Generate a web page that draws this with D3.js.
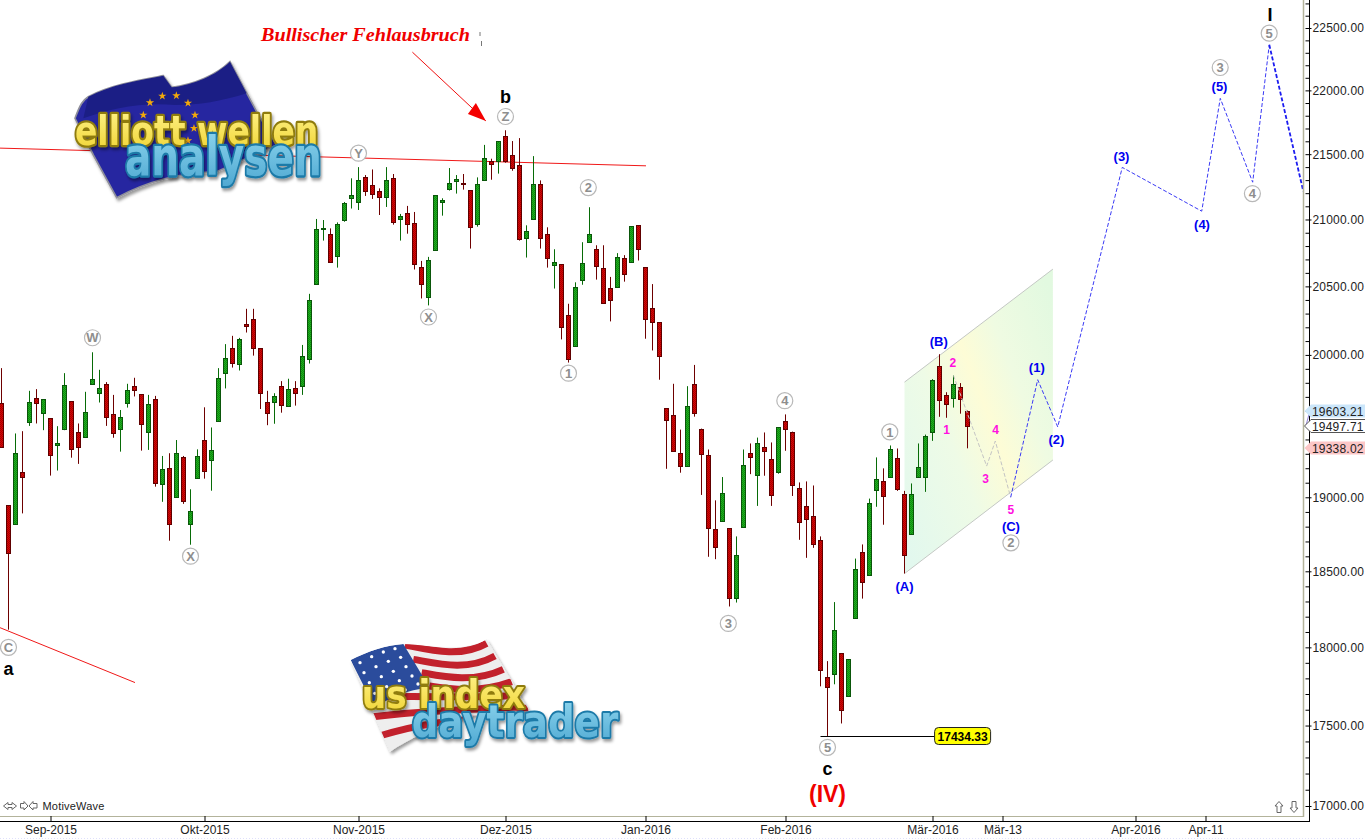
<!DOCTYPE html>
<html><head><meta charset="utf-8">
<script src="https://cdn.jsdelivr.net/npm/d3@7"></script>
<style>
html,body{margin:0;padding:0;background:#fff;overflow:hidden}
svg{display:block;font-family:"Liberation Sans",Arial,sans-serif}
</style></head><body>
<svg id="chart" width="1365" height="839"></svg>
<script>
// ---- candle values, one entry per trading day ----
const opens=[19655,18945,18815,19172,19524,19691,19588,19548,19364,19475,
19669,19449,19419,19788,19724,19793,19576,19475,19660,19776,
19719,19454,19683,19093,19200,19004,19278,18820,19135,19394,
19260,19531,19869,20049,19934,20224,20260,20049,19662,19667,
19776,19638,19764,19774,19974,20515,20926,20888,20722,20996,
21166,21136,21321,21260,21215,21174,21314,21006,21047,20971,
20642,20425,20774,21131,21235,21295,21275,21222,20968,21298,
21450,21444,21639,21497,21420,20864,21006,21268,20888,20662,
20664,20289,20061,20550,20834,20776,20634,20486,20498,20709,
20684,20956,20642,20340,20238,19619,19569,19303,19217,19790,
19476,19289,18781,18835,18788,18326,18799,19303,19155,19344,
19261,19176,19526,19455,19067,18943,18869,18707,17809,17830,
17963,17685,18191,18626,18476,19053,19109,19141,19268,19025,
18752,19141,19141,19454,19919,19716,19695,19770,19603.21];
const highs=[19905,18945,19442,19458,19743,19755,19683,19548,19493,19869,
19669,19512,19736,20019,19893,19805,19714,19607,19793,19836,
19719,19714,19707,19285,19304,19396,19285,19055,19331,19626,
19484,19905,20078,20138,20123,20335,20335,20049,19743,19726,
19812,19829,19812,20072,20445,21004,20996,20933,20978,21133,
21314,21400,21339,21382,21237,21400,21347,21042,21103,21057,
20689,20719,21184,21161,21393,21339,21347,21222,21321,21572,
21465,21600,21686,21602,21625,20956,21485,21298,20941,20776,
20664,20372,20530,20829,21093,20806,20806,20570,20747,20732,
20948,20956,20642,20517,20238,19619,19793,19469,19776,19928,
19476,19330,18979,19139,18788,18734,19330,19372,19413,19449,
19379,19484,19576,19455,19102,19109,19081,18734,17911,18296,
17963,17924,18585,18680,18991,19275,19199,19358,19337,19044,
19095,19372,19434,19826,20005,19733,19852,19798,19603.21];
const lows=[19345,18115,18815,18890,19495,19512,19465,19149,19184,19465,
19273,19230,19419,19788,19660,19495,19412,19315,19624,19703,
19322,19327,19073,18969,18705,19004,18955,18678,19135,19128,
19045,19531,19760,19909,19888,20162,19995,19614,19500,19510,
19588,19631,19638,19714,19938,20515,20841,20684,20639,20983,
21083,21072,21179,21156,21034,21095,20961,20841,20893,20625,
20411,20360,20774,21029,21220,21197,21227,20781,20946,21298,
21303,21350,21434,21372,20841,20714,21006,20781,20639,20484,
20112,19945,20061,20512,20834,20550,20381,20243,20498,20535,
20684,20692,20117,20032,19822,19196,19321,19169,19217,19560,
19016,18597,18581,18835,18267,18293,18799,19159,18941,19148,
18941,19162,19321,19009,18711,18590,18657,17749,17434.33,17762,
17513,17685,18191,18319,18470,18935,18813,19141,19044,18485,
18745,19134,19037,19390,19559,19552,19624,19581,19338.02];
const closes=[19345,18620,19305,19142,19662,19660,19683,19294,19373,19783,
19331,19350,19591,19826,19762,19560,19447,19555,19748,19752,
19510,19648,19100,19193,18820,19304,18975,18903,19283,19184,
19324,19833,19976,19945,20114,20206,20053,19731,19588,19705,
19645,19755,19731,19993,20399,20926,20933,20684,20963,21123,
21184,21298,21220,21197,21174,21298,20983,21024,20968,20669,
20520,20694,21184,21146,21275,21306,21268,20946,21268,21474,
21426,21600,21444,21395,20856,20912,21268,20864,20714,20679,
20199,19967,20493,20672,20888,20654,20381,20403,20717,20595,
20948,20781,20258,20236,19995,19538,19321,19217,19633,19588,
19300,18792,18664,19032,18326,18612,19219,19280,19372,19321,
19016,19484,19474,19085,18833,18853,18685,17851,17743,18112,
17596,17924,18518,18432,18964,19129,19009,19330,19058,18610,
19025,19206,19427,19819,19677,19648,19791,19688,19497.71];

// ---- axes ----
const dateTickBars=[7,29,51,72,92,112,133,143,162,172];
const dateTickLabels=["Sep-2015","Okt-2015","Nov-2015","Dez-2015","Jan-2016","Feb-2016","Mär-2016","Mär-13","Apr-2016","Apr-11"];
const priceMajor=[17000,17500,18000,18500,19000,19500,20000,20500,21000,21500,22000,22500];
const priceMinor=d3.range(17000,22800,100);

// ---- forecast paths: [bar, price] ----
const pinkWave=[[136,19852],[140.74,19215],[141.97,19389],[144.17,19000]];
const blueWave=[[144.17,19000],[148.03,19822],[150.89,19488],[160.11,21398],[171.46,21063],[174.11,21937],[178.74,21284],[181.11,22364]];
const blueWaveLast=[[181.11,22364],[185.97,21215]];
const trendUpper=[[-0.21,21547],[92.07,21410]];
const trendLower=[[-0.21,18128],[19.07,17773]];
const channel=[[129,19805],[150.2,20628],[150.2,19257],[129,18485]];

// ---- wave labels: [text, bar, price] ----
const circled=[["C",1,18000],["W",13,20124],["X",27,18601],["Y",51,21508],["X",61,20275],["Z",72,21794],
["1",81,19869],["2",83.83,21243],["3",103.83,18156],["4",111.9,19673],["5",118,17363],["1",126.9,19453],
["2",144.2,18691],["3",174.1,22182],["4",178.7,21197],["5",181.1,22458]];
const blueLabels=[["(A)",129,18402],["(B)",133.9,20097],["(C)",144.2,18799],["(1)",147.9,19909],["(2)",150.7,19402],
["(3)",160,21487],["(4)",171.5,20962],["(5)",174,22035]];
const pinkLabels=[["1",135,19470],["2",135.9,19941],["3",140.6,19130],["4",142,19470],["5",144.2,18912]];
const blackLabels=[["a",1,17863],["b",72,21948],["c",118,17230],["I",181.2,22612]];
const redDegree=[["(IV)",118,17075]];
const lastLabels=[[19603.21,"blue"],[19497.71,"white"],[19338.02,"red"]];
const lowValue=17434.33;

const svg=d3.select("#chart");
const x=d3.scaleLinear().domain([0,1]).range([1.5,8.5]);
const y=d3.scaleLog().domain([17000,22500]).range([806,28]);
const line=d3.line().x(d=>x(d[0])).y(d=>y(d[1]));

// ---- defs ----
const defs=svg.append("defs");
function dither(id,a,b){
  const p=defs.append("pattern").attr("id",id).attr("width",2).attr("height",2).attr("patternUnits","userSpaceOnUse");
  p.append("rect").attr("width",2).attr("height",2).attr("fill",a);
  p.append("rect").attr("width",1).attr("height",1).attr("fill",b);
  p.append("rect").attr("x",1).attr("y",1).attr("width",1).attr("height",1).attr("fill",b);
}
dither("upFill","#1fae1f","#0e8a0e");
dither("downFill","#d40606","#a80000");
const cg=defs.append("linearGradient").attr("id","chanGrad").attr("x1",0).attr("y1",0.9).attr("x2",1).attr("y2",0.1);
[[0,"#e2f8ee"],[0.35,"#eefbe6"],[0.55,"#fdfcd6"],[0.72,"#effbe2"],[1,"#e2f9e0"]].forEach(s=>cg.append("stop").attr("offset",s[0]).attr("stop-color",s[1]));
const sh=defs.append("filter").attr("id","logoShadow").attr("x","-10%").attr("y","-10%").attr("width","125%").attr("height","130%");
sh.append("feDropShadow").attr("dx",5).attr("dy",8).attr("stdDeviation",5).attr("flood-color","#000").attr("flood-opacity",0.4);
const yg=defs.append("linearGradient").attr("id","yellowGrad").attr("x1",0).attr("y1",0).attr("x2",0).attr("y2",1);
yg.append("stop").attr("offset",0).attr("stop-color","#fff38a");yg.append("stop").attr("offset",1).attr("stop-color","#efd22e");
const bg=defs.append("linearGradient").attr("id","blueGrad").attr("x1",0).attr("y1",0).attr("x2",0).attr("y2",1);
bg.append("stop").attr("offset",0).attr("stop-color","#8fd6ee");bg.append("stop").attr("offset",1).attr("stop-color","#4ea8d2");

// ---- channel ----
svg.append("polygon").attr("points",channel.map(d=>[x(d[0]),y(d[1])].join(",")).join(" ")).attr("fill","url(#chanGrad)");
svg.append("path").attr("d",line([channel[0],channel[1]])).attr("stroke","#c4c8c4").attr("fill","none");
svg.append("path").attr("d",line([channel[3],channel[2]])).attr("stroke","#c4c8c4").attr("fill","none");

// ---- trend lines ----
[trendUpper,trendLower].forEach(t=>svg.append("path").attr("d",line(t)).attr("stroke","#f01818").attr("fill","none"));

// ---- low marker line ----
svg.append("line").attr("x1",x(117)).attr("x2",x(133.3)).attr("y1",Math.round(y(lowValue))+.5).attr("y2",Math.round(y(lowValue))+.5).attr("stroke","#000");

// ---- candles ----
const bars=d3.range(opens.length);
const g=svg.append("g").attr("class","candles");
g.selectAll("line").data(bars).join("line")
  .attr("x1",i=>x(i)).attr("x2",i=>x(i)).attr("y1",i=>y(highs[i])).attr("y2",i=>y(lows[i]))
  .attr("stroke",i=>closes[i]>=opens[i]?"#076b07":"#6e0000");
g.selectAll("rect").data(bars).join("rect")
  .attr("x",i=>x(i)-2).attr("width",4)
  .attr("y",i=>Math.round(y(Math.max(opens[i],closes[i])))+.5)
  .attr("height",i=>Math.max(1,Math.round(y(Math.min(opens[i],closes[i])))-Math.round(y(Math.max(opens[i],closes[i])))))
  .attr("fill",i=>closes[i]>=opens[i]?"url(#upFill)":"url(#downFill)")
  .attr("stroke",i=>closes[i]>=opens[i]?"#0a560a":"#600000");

// ---- forecast waves ----
svg.append("path").attr("d",line(pinkWave)).attr("fill","none").attr("stroke","#c4c4c4").attr("stroke-dasharray","4,2");
svg.append("path").attr("d",line(blueWave)).attr("fill","none").attr("stroke","#3a3af5").attr("stroke-dasharray","4,2");
svg.append("path").attr("d",line(blueWaveLast)).attr("fill","none").attr("stroke","#1c1cf0").attr("stroke-width",1.8).attr("stroke-dasharray","4,2");

// ---- logos ----
// Sets the logo word to a measured horizontal scale so that its real box matches its drawn width.
function logoWord(L,text,left,base,size,width,fill,stroke,sw){
  const t=L.append("text").text(text).attr("font-family","DejaVu Sans").attr("font-weight","bold").attr("font-size",size)
    .attr("fill",fill).attr("stroke",stroke).attr("stroke-width",sw).attr("paint-order","stroke").attr("stroke-linejoin","round").attr("filter","url(#logoShadow)");
  const w=t.node().getComputedTextLength();
  t.attr("transform",`translate(${left},${base}) scale(${width/w},1)`);
}
function eLogo(){
  const L=svg.append("g").attr("transform","translate(60,55) scale(.3333)");
  const flag="M45,190 C60,150 68,135 85,125 C150,90 240,75 310,62 L335,97 C400,90 470,60 510,20 L590,170 L650,270 L470,350 C350,355 260,380 170,428 L100,300 Z";
  L.append("path").attr("d",flag).attr("fill","#2528a0").attr("stroke","#8f8f9a").attr("stroke-width",5).attr("filter","url(#logoShadow)");
  L.append("path").attr("d","M85,125 C150,90 240,75 310,62 L335,97 L345,150 C250,140 150,160 70,190 Z M335,97 C400,90 470,60 510,20 L560,115 C480,140 420,150 345,150 Z").attr("fill","#1b1e85");
  const star=d3.symbol().type(d3.symbolStar).size(190)();
  [[270,143],[307,123],[349,122],[384,144],[405,180],[402,220],[384,257],[250,180]].forEach(s=>
    L.append("path").attr("d",star).attr("transform",`translate(${s[0]},${s[1]})`).attr("fill","#f3a90a"));
  logoWord(L,"elliott wellen",45,270,120,730,"url(#yellowGrad)","#8f7c10",14);
  logoWord(L,"analysen",195,360,160,590,"url(#blueGrad)","#1c7aa8",14);
}
function uLogo(){
  const L=svg.append("g").attr("transform","translate(340,630) scale(.3333)");
  const outline="M32,90 C80,65 140,45 190,42 C270,45 370,70 440,28 L570,245 C450,230 280,280 150,365 Z";
  defs.append("clipPath").attr("id","usClip").append("path").attr("d",outline);
  const F=L.append("g");
  F.append("path").attr("d",outline).attr("fill","#eee").attr("filter","url(#logoShadow)");
  const C=F.append("g").attr("clip-path","url(#usClip)");
  ["M195,45 C270,60 360,85 440,40","M220,88 C290,100 380,125 465,78","M245,128 C310,140 400,160 490,118","M268,168 C330,178 420,190 515,155",
   "M60,205 C200,190 380,210 538,195","M85,262 C220,245 400,235 565,235","M118,318 C240,280 400,255 590,268"].forEach(d=>
    C.append("path").attr("d",d).attr("fill","none").attr("stroke","#c2212c").attr("stroke-width",21));
  C.append("path").attr("d","M32,90 C80,65 140,45 190,42 L268,172 C200,182 150,200 105,235 Z").attr("fill","#2b4c9c");
  [[60,98],[95,80],[130,66],[165,56],[72,128],[108,110],[145,94],[182,82],[88,158],[124,140],[160,124],[198,110],[104,190],[140,170],[178,152],[216,138],[120,215],[158,198],[196,180],[234,162]].forEach(s=>
    C.append("circle").attr("cx",s[0]).attr("cy",s[1]).attr("r",5).attr("fill","#fff"));
  logoWord(L,"us index",65,235,118,490,"url(#yellowGrad)","#8f7c10",12);
  logoWord(L,"daytrader",215,322,135,620,"url(#blueGrad)","#1c7aa8",12);
}
eLogo();uLogo();

// ---- annotation arrow ----
const arrowFrom=[58.7,22305],arrowTip=[69.2,21759];
svg.append("path").attr("d",line([arrowFrom,arrowTip])).attr("stroke","#f01010").attr("fill","none");
const tx=x(arrowTip[0]),ty=y(arrowTip[1]);
svg.append("polygon").attr("points",`${tx},${ty} ${tx-10},${ty-18} ${tx-18},${ty-7}`).attr("fill","#f40000");
svg.append("text").text("Bullischer Fehlausbruch").attr("x",261).attr("y",41).attr("font-family","Liberation Serif").attr("font-weight","bold").attr("font-style","italic")
  .attr("font-size",18).attr("textLength",209).attr("lengthAdjust","spacingAndGlyphs").attr("fill","#f00000");
svg.append("path").attr("d","M480,32V36M481.5,41V46").attr("stroke","#777").attr("fill","none");

// ---- labels ----
const cg2=svg.append("g").selectAll("g").data(circled).join("g").attr("transform",d=>`translate(${x(d[1])},${y(d[2])})`);
cg2.append("circle").attr("r",8).attr("fill","#fff").attr("stroke","#b8b8b8").attr("stroke-width",1.2);
cg2.append("text").text(d=>d[0]).attr("text-anchor","middle").attr("y",4.7).attr("font-size",13).attr("font-weight","bold").attr("fill","#8e8e8e");
function labels(data,color,size){
  svg.append("g").selectAll("text").data(data).join("text").text(d=>d[0])
    .attr("x",d=>x(d[1])).attr("y",d=>y(d[2])+size*.36).attr("text-anchor","middle")
    .attr("font-size",size).attr("font-weight","bold").attr("fill",color);
}
labels(blueLabels,"#0000f0",13);
labels(pinkLabels,"#ff10e0",12);
labels(blackLabels,"#000",18);
labels(redDegree,"#f00000",23);

// ---- low label ----
const lowG=svg.append("g").attr("transform",`translate(${x(133.3)},${Math.round(y(lowValue))})`);
lowG.append("rect").attr("x",0).attr("y",-8.5).attr("width",56).attr("height",17).attr("rx",4).attr("fill","#ffff00").attr("stroke","#222");
lowG.append("text").text(d3.format(".2f")(lowValue)).attr("x",28).attr("y",4.5).attr("text-anchor","middle").attr("font-size",12).attr("font-weight","bold").attr("fill","#000");

// ---- frame ----
svg.append("line").attr("x1",0).attr("x2",1304).attr("y1",816.5).attr("y2",816.5).attr("stroke","#b3b39b");
svg.append("line").attr("x1",1303.5).attr("x2",1303.5).attr("y1",0).attr("y2",817).attr("stroke","#b3b39b").attr("stroke-width",1.5);
svg.append("line").attr("x1",0).attr("x2",1365).attr("y1",838.5).attr("y2",838.5).attr("stroke","#dfe0fb").attr("stroke-dasharray","1,2");

// ---- axes ----
const xAxis=d3.axisBottom(x).tickValues(dateTickBars).tickFormat((d,i)=>dateTickLabels[i]).tickSizeInner(-5).tickSizeOuter(0).tickPadding(4);
const gx=svg.append("g").attr("transform","translate(0,821)").call(xAxis);
gx.select(".domain").remove();
gx.append("line").attr("x1",0).attr("x2",1310).attr("y1",.5).attr("y2",.5).attr("stroke","#000");
gx.selectAll("text").attr("font-size",12).attr("fill","#222").attr("font-family","Liberation Sans");
gx.selectAll(".tick line").attr("stroke","#000");

const yMinor=d3.axisLeft(y).tickValues(priceMinor).tickFormat("").tickSizeInner(4).tickSizeOuter(0);
const gm=svg.append("g").attr("transform","translate(1309.5,0)").call(yMinor);
gm.select(".domain").remove();
gm.append("line").attr("x1",0).attr("x2",0).attr("y1",0).attr("y2",821).attr("stroke","#000");
gm.selectAll(".tick line").attr("stroke","#000");
const yMajor=d3.axisRight(y).tickValues(priceMajor).tickFormat(d3.format(".2f")).tickSizeInner(2).tickSizeOuter(0).tickPadding(1);
const gy=svg.append("g").attr("transform","translate(1309.5,0)").call(yMajor);
gy.select(".domain").remove();
gy.selectAll("text").attr("font-size",12).attr("fill","#222").attr("letter-spacing",".2px").attr("font-family","Liberation Sans");
gy.selectAll(".tick line").attr("stroke","#000");

// ---- last value flags ----
svg.append("line").attr("x1",1306).attr("x2",1310).attr("y1",y(19497.71)).attr("y2",y(19603.21)).attr("stroke","#8f7fd8");
const flagFill={blue:"#cbe6fa",white:"#ffffff",red:"#fcc6c6"};
const fl=svg.append("g").selectAll("g").data(lastLabels).join("g").attr("transform",d=>`translate(0,${Math.round(y(d[0]))})`);
fl.append("path").attr("d","M1304.5,0 L1311,-6.5 H1366 V6.5 H1311 Z").attr("fill",d=>flagFill[d[1]]).attr("stroke",d=>d[1]==="white"?"#555":"none");
fl.append("text").text(d=>d3.format(".2f")(d[0])).attr("x",1312).attr("y",4.5).attr("font-size",12).attr("letter-spacing",".2px").attr("fill","#222");

// ---- window controls ----
const ctl=svg.append("g").attr("fill","#fff").attr("stroke","#666");
ctl.append("path").attr("d","M3.5,806 L8,802.5 V804.5 H12 V802.5 L16.5,806 L12,809.5 V807.5 H8 V809.5 Z");
ctl.append("path").attr("d","M20.5,803.5 H24 V801.5 L28,806 L24,810 V808 H20.5 Z");
ctl.append("path").attr("d","M37,803.5 H33 V801.5 L29,806 L33,810 V808 H37 Z");
ctl.append("path").attr("d","M1279,801.5 L1283,806 H1281 V812.5 H1277 V806 H1275 Z");
ctl.append("path").attr("d","M1294,812.5 L1298,808 H1296 V801.5 H1292 V808 H1290 Z");
svg.append("text").text("MotiveWave").attr("x",42.5).attr("y",810).attr("font-size",11).attr("letter-spacing",".2px").attr("fill","#222");
</script>
</body></html>
